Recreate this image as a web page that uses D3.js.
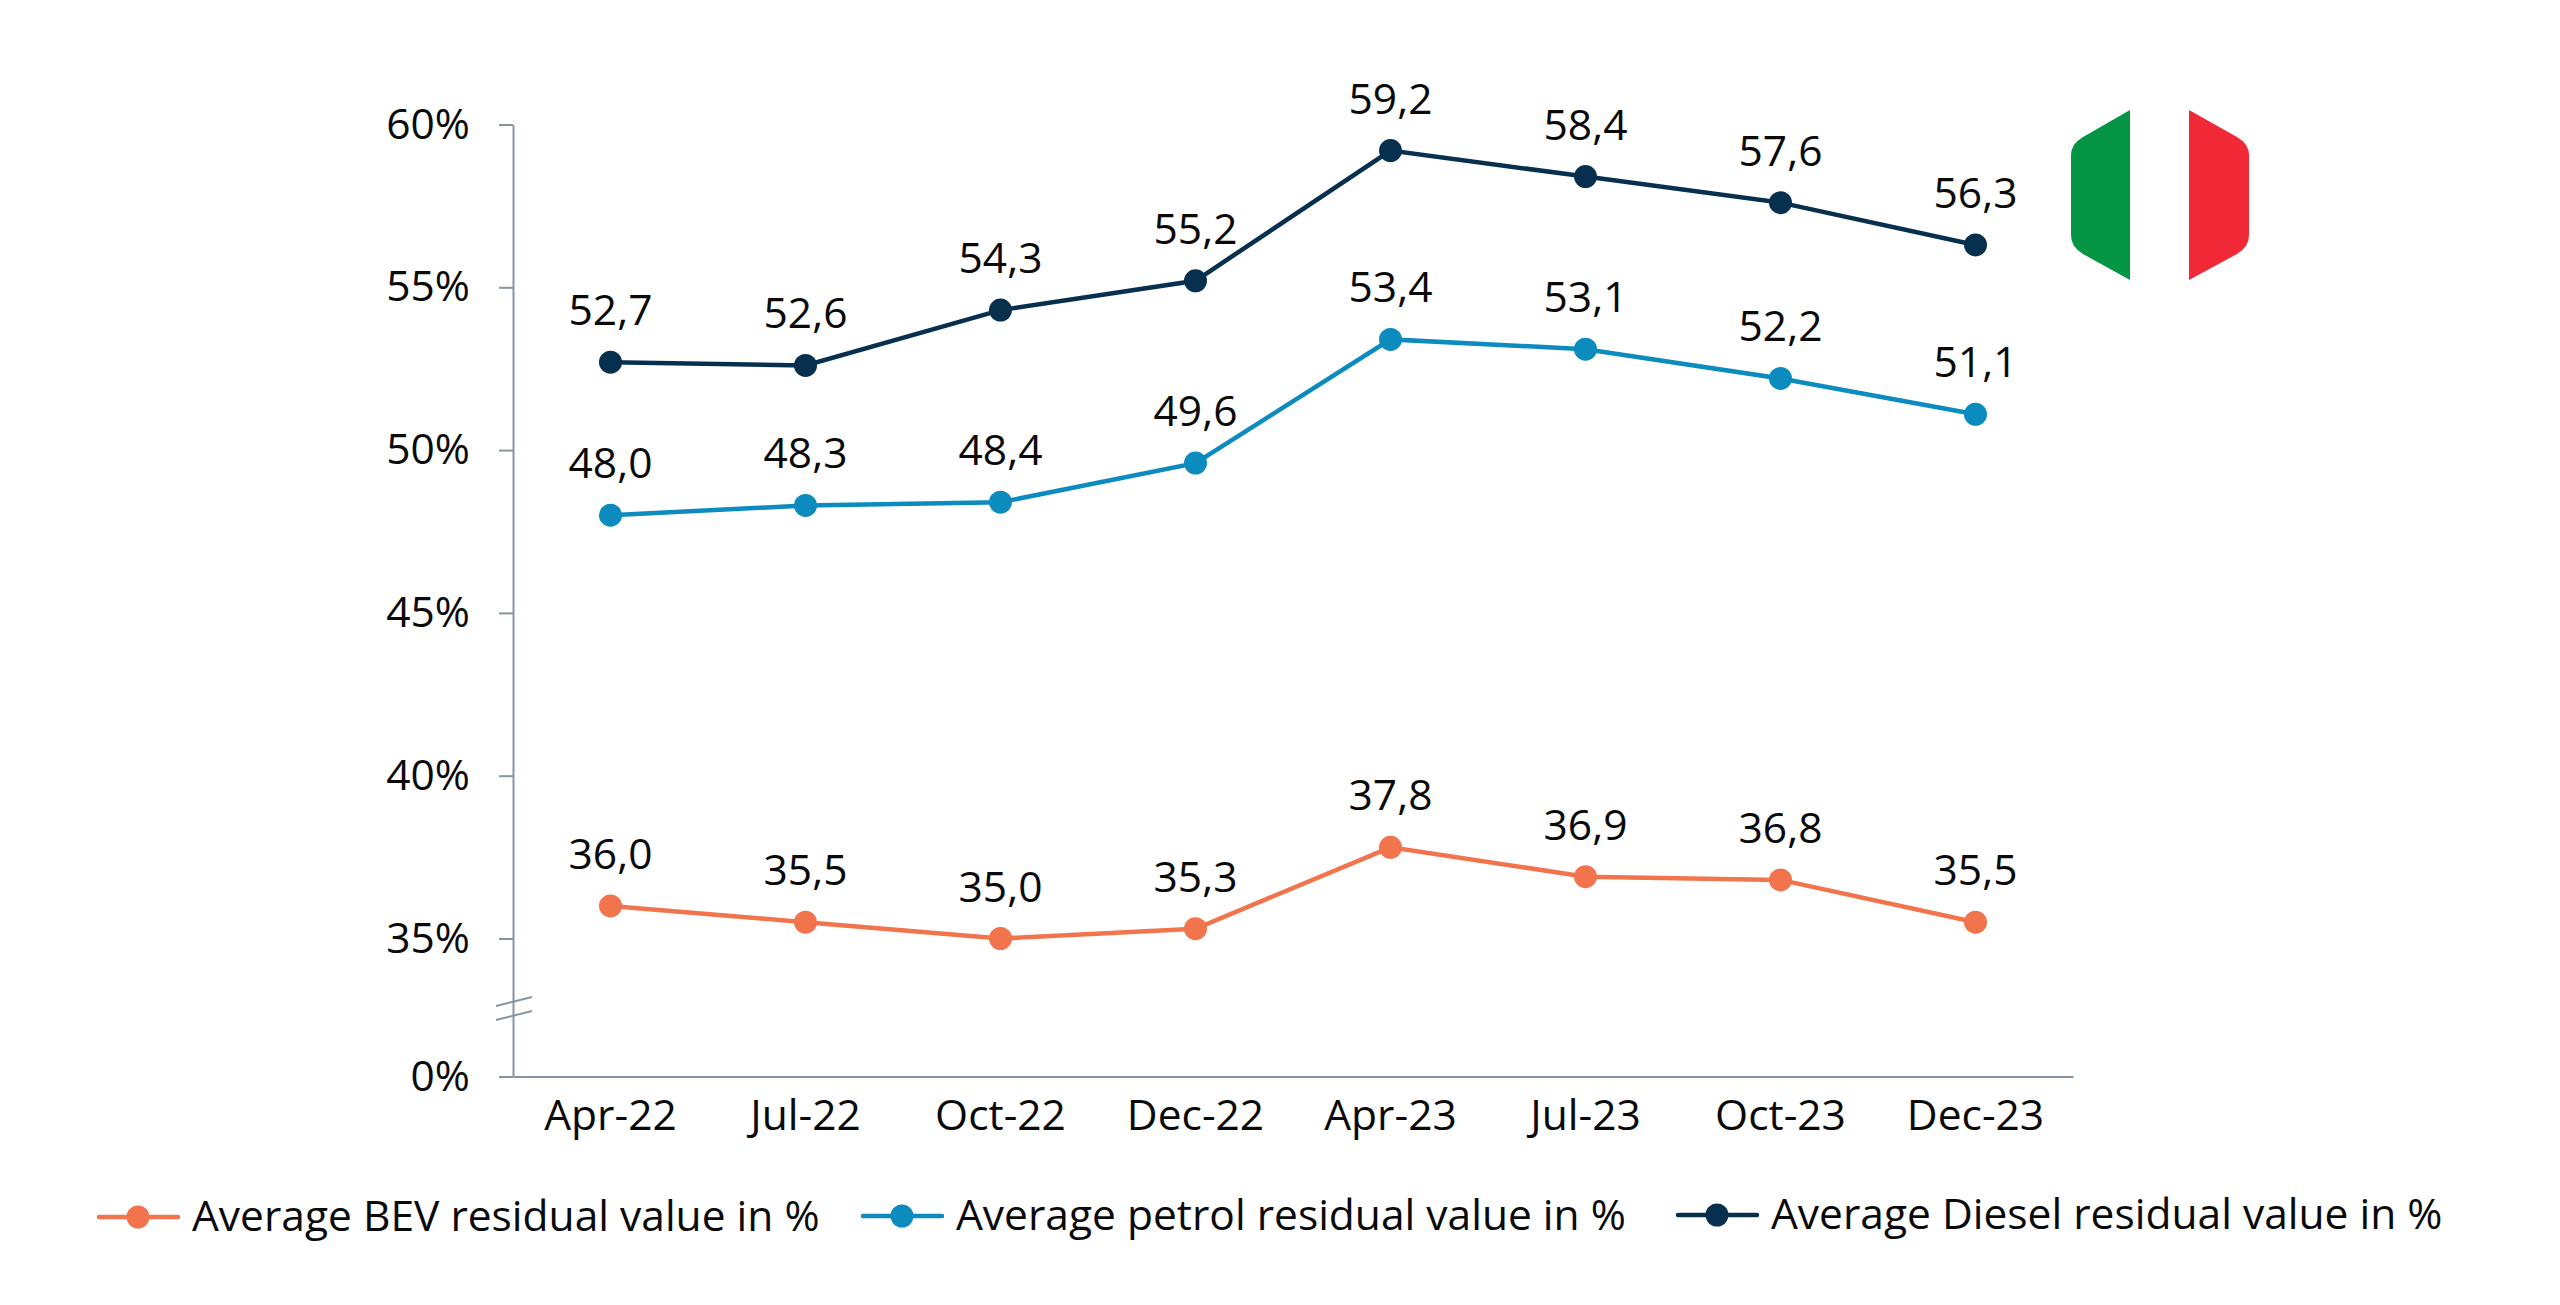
<!DOCTYPE html>
<html>
<head>
<meta charset="utf-8">
<script src="https://cdn.jsdelivr.net/npm/d3@7"></script>
<style>
body { margin: 0; background: #fff; }
svg text { font-family: "Open Sans", sans-serif; fill: #0a0a0a; }
</style>
</head>
<body>
<script>
var months = ["Apr-22", "Jul-22", "Oct-22", "Dec-22", "Apr-23", "Jul-23", "Oct-23", "Dec-23"];
var bevValues = [36.0, 35.5, 35.0, 35.3, 37.8, 36.9, 36.8, 35.5];
var petrolValues = [48.0, 48.3, 48.4, 49.6, 53.4, 53.1, 52.2, 51.1];
var dieselValues = [52.7, 52.6, 54.3, 55.2, 59.2, 58.4, 57.6, 56.3];
var yTicks = [0, 35, 40, 45, 50, 55, 60];
var legendNames = ["Average BEV residual value in %", "Average petrol residual value in %", "Average Diesel residual value in %"];

var width = 2560, height = 1305;
var axisColor = "#8794a6";
var fontSize = "42.5px";
var svg = d3.select("body").append("svg").attr("width", width).attr("height", height);

// y axis is broken: 0 to 35 is squeezed
var y = d3.scaleLinear().domain([0, 35, 60]).range([1076.5, 938.5, 124.5]);
var x = d3.scaleBand().domain(months).range([513, 2073]);

var yAxis = svg.append("g").attr("transform", "translate(513,0)")
	.call(d3.axisLeft(y).tickValues(yTicks).tickSize(14).tickSizeOuter(0).tickPadding(29).tickFormat(function(d){ return d + "%"; }));
var xAxis = svg.append("g").attr("transform", "translate(0,1076.5)")
	.call(d3.axisBottom(x).tickSize(0).tickPadding(23));

yAxis.selectAll("path, line").attr("stroke", axisColor).attr("stroke-width", 2);
xAxis.selectAll("path").attr("stroke", axisColor).attr("stroke-width", 2);
yAxis.selectAll("text").style("font-size", fontSize);
xAxis.selectAll("text").style("font-size", fontSize);

// axis break marks
[0, 14].forEach(function(off){
	svg.append("line")
		.attr("x1", 496).attr("y1", 1006 + off)
		.attr("x2", 532).attr("y2", 997 + off)
		.attr("stroke", axisColor).attr("stroke-width", 2);
});

var series = [
	{name: legendNames[0], values: bevValues, color: "#f1744d", lx: 99, ty: 1217},
	{name: legendNames[1], values: petrolValues, color: "#0b8bbe", lx: 863, ty: 1216},
	{name: legendNames[2], values: dieselValues, color: "#06304e", lx: 1678, ty: 1215}
];

var line = d3.line()
	.x(function(d, i){ return x(months[i]) + x.bandwidth() / 2; })
	.y(function(d){ return y(d); });

series.forEach(function(s){
	var g = svg.append("g");
	g.append("path").attr("d", line(s.values)).attr("fill", "none").attr("stroke", s.color).attr("stroke-width", 4.5);
	g.selectAll("circle").data(s.values).enter().append("circle")
		.attr("cx", function(d, i){ return x(months[i]) + x.bandwidth() / 2; })
		.attr("cy", function(d){ return y(d); })
		.attr("r", 11.5)
		.attr("fill", s.color);
	g.selectAll("text").data(s.values).enter().append("text")
		.attr("x", function(d, i){ return x(months[i]) + x.bandwidth() / 2; })
		.attr("y", function(d){ return y(d) - 37; })
		.attr("text-anchor", "middle")
		.style("font-size", fontSize)
		.text(function(d){ return d.toFixed(1).replace(".", ","); });

	// legend
	var lg = svg.append("g");
	lg.append("line").attr("x1", s.lx).attr("x2", s.lx + 79).attr("y1", s.ty).attr("y2", s.ty)
		.attr("stroke", s.color).attr("stroke-width", 4.5).attr("stroke-linecap", "round");
	lg.append("circle").attr("cx", s.lx + 39).attr("cy", s.ty).attr("r", 11.5).attr("fill", s.color);
	lg.append("text").attr("x", s.lx + 93).attr("y", s.ty + 14).style("font-size", fontSize).text(s.name);
});

// flag, hexagon cut in three
svg.append("path").attr("fill", "#039544")
	.attr("d", "M2130,110 L2083,137 Q2071,144 2071,155 L2071,235 Q2071,247 2083,254 L2130,280 Z");
svg.append("path").attr("fill", "#f12936")
	.attr("d", "M2189,110 L2237,137 Q2249,144 2249,155 L2249,235 Q2249,247 2237,254 L2189,280 Z");
</script>
</body>
</html>
